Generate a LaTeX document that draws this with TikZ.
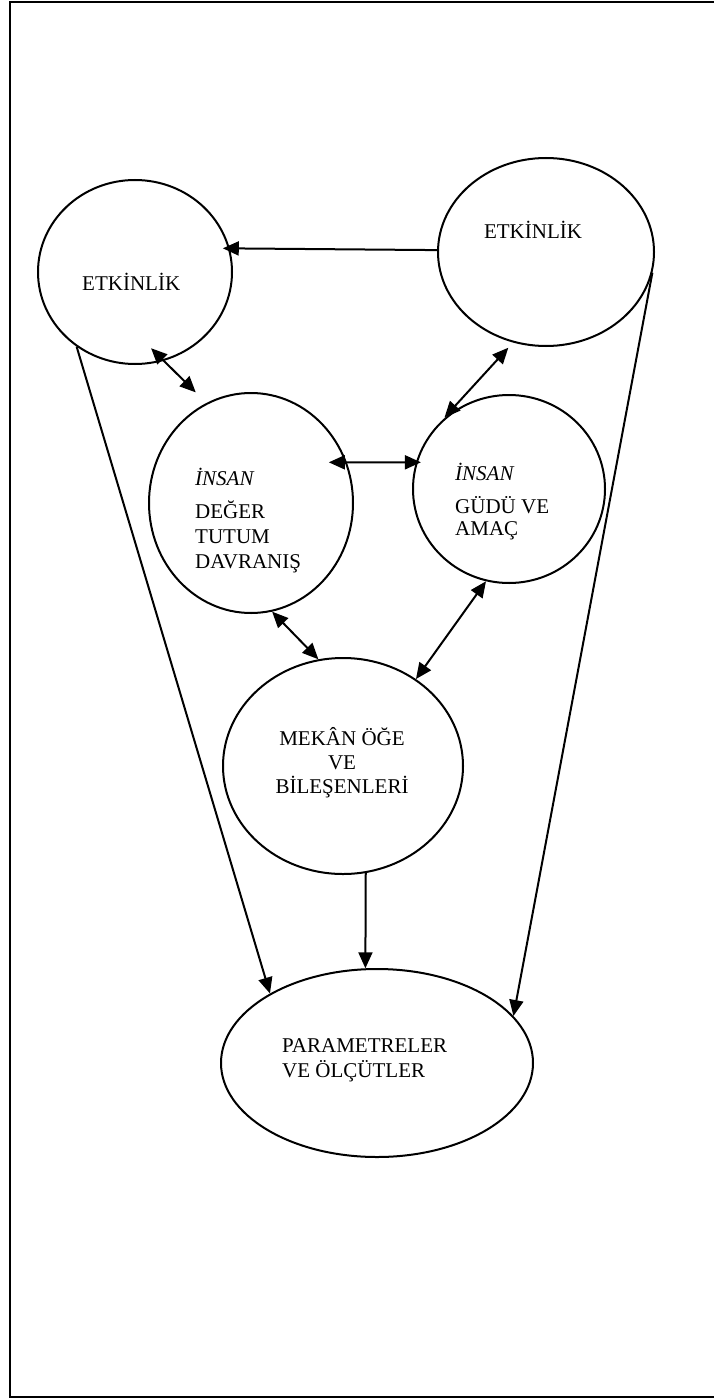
\documentclass[tikz,border=0pt]{standalone}
\usepackage{fontspec}
\setmainfont{Liberation Serif}
\usetikzlibrary{arrows.meta,shapes.geometric}
\tikzset{post/.style={-{Triangle[length=16pt,width=14pt]},line width=2pt},
		twoway/.style={{Triangle[length=16pt,width=14pt]}-{Triangle[length=16pt,width=14pt]},line width=2pt}}

\begin{document}
\begin{tikzpicture}[x=1pt,y=-1pt,
		blob/.style={ellipse,draw=black,line width=2pt,inner sep=0pt},
		txt/.style={anchor=base west,inner sep=0pt,font=\fontsize{21}{25}\selectfont},
		ctxt/.style={txt,anchor=base},
		itxt/.style={txt,font=\fontsize{21}{25}\selectfont\itshape}]
		\useasboundingbox (0,0) rectangle (714,1399);
		\draw[line width=2.2pt] (714,2) -- (10,2) -- (10,1397) -- (714,1397);

		\node[blob,minimum width=194pt,minimum height=184pt] (etkinlik-left) at (135,272) {};
		\node[blob,minimum width=216pt,minimum height=188pt] (etkinlik-right) at (546,252) {};
		\node[blob,minimum width=204pt,minimum height=220pt] (insan-deger) at (251,503) {};
		\node[blob,minimum width=192pt,minimum height=188pt] (insan-gudu) at (509,489) {};
		\node[blob,minimum width=240pt,minimum height=216pt] (mekan) at (343,766) {};
		\node[blob,minimum width=312pt,minimum height=188pt] (parametre) at (377,1063) {};

		\node[txt] (etkinlik-left-text) at (82,290) {ETKİNLİK};
		\node[ctxt] (etkinlik-right-text) at (533,238) {ETKİNLİK};
		\node[itxt] (insan-left-text) at (195,485) {İNSAN};
		\node[txt] (deger-text) at (195,518) {DEĞER};
		\node[txt] (tutum-text) at (195,543) {TUTUM};
		\node[txt] (davranis-text) at (195,568) {DAVRANIŞ};
		\node[itxt] (insan-right-text) at (455,480) {İNSAN};
		\node[txt] (gudu-text) at (455,513) {GÜDÜ VE};
		\node[txt] (amac-text) at (455,535) {AMAÇ};
		\node[ctxt] (mekan-text) at (342,745) {MEKÂN ÖĞE};
		\node[ctxt] (ve-text) at (342,769) {VE};
		\node[ctxt] (bilesen-text) at (342,793) {BİLEŞENLERİ};
		\node[txt] (parametre-text) at (282,1052) {PARAMETRELER};
		\node[txt] (olcut-text) at (282,1077) {VE ÖLÇÜTLER};

		\draw[post,shorten >=-7pt] (etkinlik-right.179) -- (etkinlik-left.14);
		\draw[twoway,shorten <=-18pt,shorten >=15pt] (etkinlik-left.-72) -- (insan-deger.114);
		\draw[twoway,shorten <=-18pt,shorten >=-5pt] (insan-deger.23) -- (insan-gudu.164);
		\draw[twoway,shorten <=7pt,shorten >=5pt] (etkinlik-right.250) -- (insan-gudu.135);
		\draw[twoway] (insan-deger.-79) -- (mekan.103);
		\draw[twoway] (insan-gudu.256) -- (mekan.50);

		\draw[post] (etkinlik-left.232) -- (parametre.147);
		\draw[post] (mekan.-78) -- (parametre.97);
		\draw[post] (etkinlik-right.-11) -- (parametre.19);
%		\draw[post] (mekan.south) -- (parametre.north);
	\end{tikzpicture}
\end{document}
